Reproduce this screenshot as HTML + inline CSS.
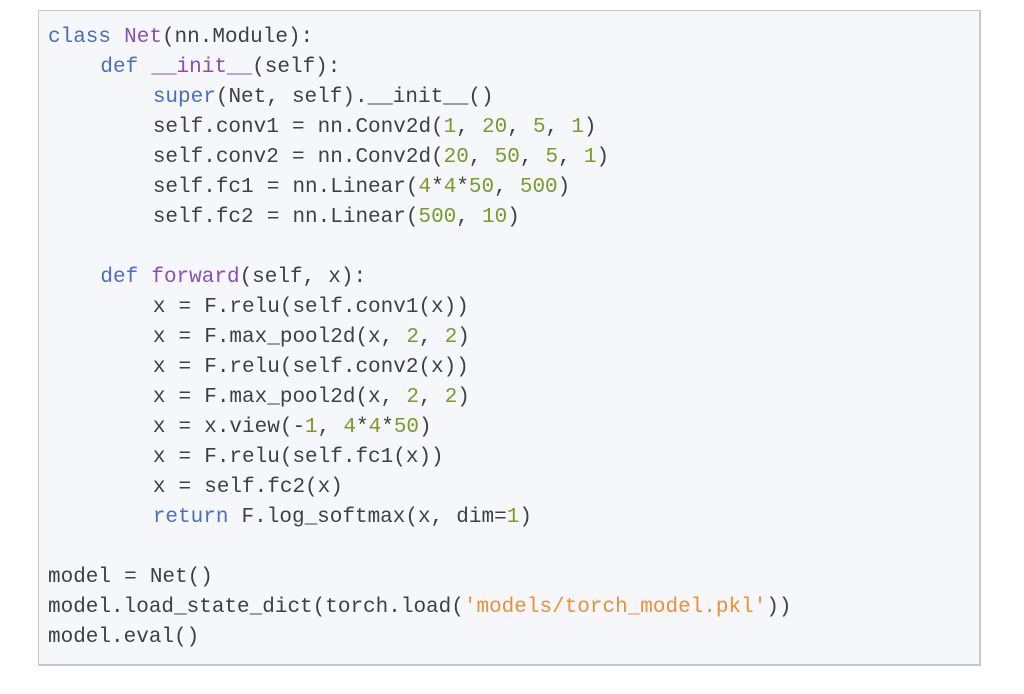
<!DOCTYPE html>
<html><head><style>
html,body{margin:0;padding:0;background:#fff;width:1024px;height:694px;overflow:hidden}
.box{position:absolute;left:38px;top:10px;width:940px;height:653px;background:#f6f7fb;border:1px solid #c8c8c8;border-right-width:2px;border-bottom-width:2px}
pre{position:absolute;left:48px;top:23px;margin:0;font-family:"Liberation Mono",monospace;font-size:21px;line-height:30px;color:#404040;word-spacing:0.5px}
.k{color:#4a6fc0}.c{color:#8a4fb5}.n{color:#7a9a2a}.s{color:#e8913a}
</style></head><body>
<div class="box"></div>
<pre><span class="k">class</span> <span class="c">Net</span>(nn.Module):
    <span class="k">def</span> <span class="c">__init__</span>(self):
        <span class="k">super</span>(Net, self).__init__()
        self.conv1 = nn.Conv2d(<span class="n">1</span>, <span class="n">20</span>, <span class="n">5</span>, <span class="n">1</span>)
        self.conv2 = nn.Conv2d(<span class="n">20</span>, <span class="n">50</span>, <span class="n">5</span>, <span class="n">1</span>)
        self.fc1 = nn.Linear(<span class="n">4</span>*<span class="n">4</span>*<span class="n">50</span>, <span class="n">500</span>)
        self.fc2 = nn.Linear(<span class="n">500</span>, <span class="n">10</span>)

    <span class="k">def</span> <span class="c">forward</span>(self, x):
        x = F.relu(self.conv1(x))
        x = F.max_pool2d(x, <span class="n">2</span>, <span class="n">2</span>)
        x = F.relu(self.conv2(x))
        x = F.max_pool2d(x, <span class="n">2</span>, <span class="n">2</span>)
        x = x.view(-<span class="n">1</span>, <span class="n">4</span>*<span class="n">4</span>*<span class="n">50</span>)
        x = F.relu(self.fc1(x))
        x = self.fc2(x)
        <span class="k">return</span> F.log_softmax(x, dim=<span class="n">1</span>)

model = Net()
model.load_state_dict(torch.load(<span class="s">'models/torch_model.pkl'</span>))
model.eval()</pre>
</body></html>
